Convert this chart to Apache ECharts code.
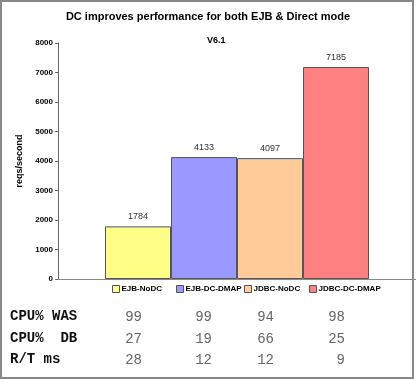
<!DOCTYPE html>
<html><head><meta charset="utf-8">
<script src="https://cdn.jsdelivr.net/npm/echarts@6/dist/echarts.min.js"></script>
<style>html,body{margin:0;padding:0;background:#fff}#c{width:416px;height:380px}</style>
</head><body><div id="c"></div>
<script>
var seriesNames = ['EJB-NoDC', 'EJB-DC-DMAP', 'JDBC-NoDC', 'JDBC-DC-DMAP'];
var reqs = [1784, 4133, 4097, 7185];
var colors = ['#FFFF88', '#9999FF', '#FFCC99', '#FF8080'];
var yTicks = [0, 1000, 2000, 3000, 4000, 5000, 6000, 7000, 8000];
var rowLabels = ['CPU% WAS', 'CPU%  DB', 'R/T ms'];
var cpuWas = [99, 99, 94, 98];
var cpuDb = [27, 19, 66, 25];
var rtMs = [28, 12, 12, 9];

var chart = echarts.init(document.getElementById('c'));
var series = seriesNames.map(function (n, i) {
  return {
    name: n, type: 'bar', barWidth: 66, barGap: '0%',
    data: [reqs[i]],
    itemStyle: { color: colors[i], borderColor: '#555', borderWidth: 1 },
    label: { show: true, position: 'top', distance: 5, color: '#333', fontSize: 9, fontFamily: 'Liberation Sans' }
  };
});
var tableRows = [cpuWas, cpuDb, rtMs];
var rowY = [317, 339, 360];
var colRight = [142, 212, 274, 345];
var graphics = [{
  type: 'rect', shape: { x: 1, y: 1, width: 412, height: 377 },
  style: { fill: 'none', stroke: '#888', lineWidth: 2 }, z: 100
}];
rowLabels.forEach(function (l, r) {
  graphics.push({ type: 'text', left: 10, top: rowY[r] - 8,
    style: { text: l, font: 'bold 14px "Liberation Mono"', fill: '#111' } });
  tableRows[r].forEach(function (v, c) {
    graphics.push({ type: 'text', x: colRight[c], y: rowY[r],
      style: { text: String(v), font: '14px "Liberation Mono"', fill: '#666', align: 'right', verticalAlign: 'middle' } });
  });
});
var legendLefts = [112, 176, 244, 309];
var legends = seriesNames.map(function (n, i) {
  return {
    data: [n], top: 285, left: legendLefts[i], itemWidth: 7, itemHeight: 7, padding: 0,
    icon: 'rect',
    itemStyle: { borderColor: '#555', borderWidth: 1 },
    textStyle: { fontSize: 8, fontWeight: 'bold', fontFamily: 'Liberation Sans', color: '#000', padding: [0, 0, 0, -3] }
  };
});
chart.setOption({
  animation: false,
  title: [{
    text: 'DC improves performance for both EJB & Direct mode', left: 'center', top: 6,
    textStyle: { fontSize: 11, fontWeight: 'bold', fontFamily: 'Liberation Sans', color: '#000' }
  }, {
    text: 'V6.1', left: 202, top: 31,
    textStyle: { fontSize: 9, fontWeight: 'bold', fontFamily: 'Liberation Sans', color: '#000' }
  }],
  legend: legends,
  grid: { left: 58, right: -2, top: 43, bottom: 101 },
  xAxis: {
    type: 'category', data: [''],
    axisLine: { lineStyle: { color: '#888' } },
    axisTick: { show: false }, axisLabel: { show: false }
  },
  yAxis: {
    type: 'value', min: 0, max: 8000, interval: 1000,
    name: 'reqs/second', nameLocation: 'middle', nameGap: 30,
    nameTextStyle: { fontSize: 9, fontWeight: 'bold', fontFamily: 'Liberation Sans', color: '#000' },
    axisLine: { show: true, lineStyle: { color: '#666' } },
    axisTick: { show: true, length: 3, lineStyle: { color: '#666' } },
    axisLabel: { fontSize: 8, fontWeight: 'bold', fontFamily: 'Liberation Sans', color: '#000', margin: 5,
      formatter: function (v) { return yTicks.indexOf(v) >= 0 ? String(v) : ''; } },
    splitLine: { show: false }
  },
  series: series,
  graphic: graphics
});
</script></body></html>
